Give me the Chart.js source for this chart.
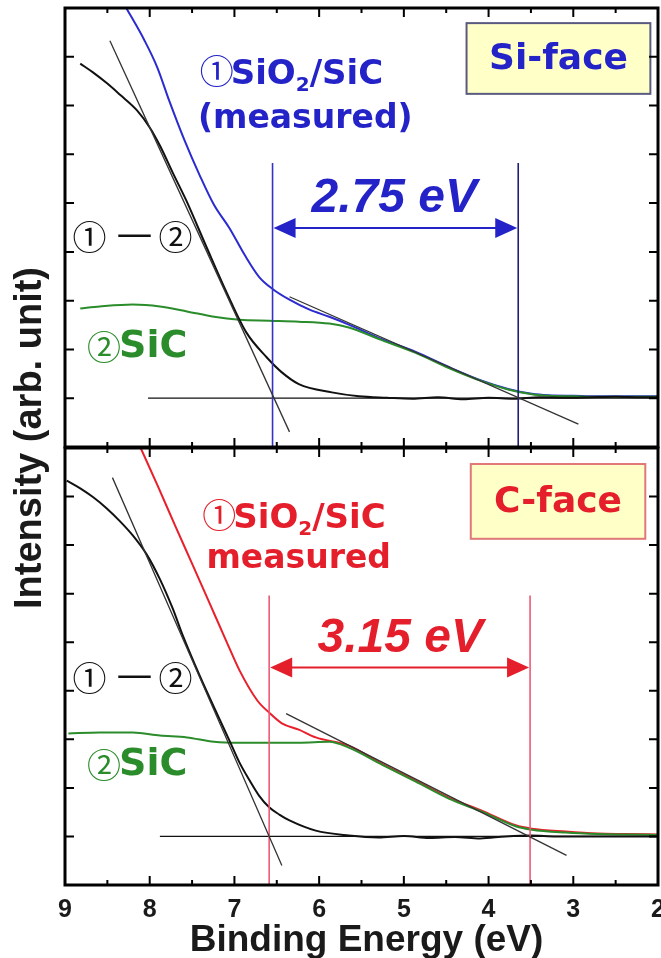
<!DOCTYPE html>
<html lang="en">
<head>
<meta charset="UTF-8">
<title>SiO2/SiC valence band offset</title>
<script src="https://cdn.jsdelivr.net/npm/chart.js"></script>
<style>
  html, body { margin: 0; padding: 0; background: #fff; overflow: hidden; }
  .panel { position: absolute; left: 0; top: 0; width: 661px; height: 958px; }
</style>
</head>
<body>
<div class="panel"><canvas id="siChart"></canvas></div>
<div class="panel"><canvas id="cChart"></canvas></div>
<script>
// axis ranges and ticks (binding energy runs 9 -> 2 eV)
const xMin = 2, xMax = 9, yMin = -1, yMax = 8;
const xMajorTicks = [9, 8, 7, 6, 5, 4, 3, 2];
const xMinorTicks = [8.5, 7.5, 6.5, 5.5, 4.5, 3.5, 2.5];
const yTicks = [0, 1, 2, 3, 4, 5, 6, 7];

// ---- Si-face ----
const siMeasuredE = [8.29, 8.06, 7.91, 7.77, 7.59, 7.41, 7.24, 7.06, 6.88, 6.71, 6.55, 6.35, 6.12, 5.88, 5.65, 5.26, 4.86, 4.47, 4.08, 3.77, 3.49, 3.29, 3.0, 2.71, 2.4, 2.0];
const siMeasuredI = [8.04, 7.33, 6.78, 6.10, 5.29, 4.57, 3.96, 3.49, 2.94, 2.49, 2.24, 2.02, 1.82, 1.67, 1.51, 1.21, 0.95, 0.64, 0.36, 0.19, 0.09, 0.06, 0.05, 0.04, 0.04, 0.04];
const siSubstrateE = [8.82, 8.59, 8.20, 7.88, 7.56, 7.24, 6.94, 6.59, 6.24, 5.88, 5.65, 5.26, 4.86, 4.47, 4.08, 3.77, 3.49, 3.29, 3.0, 2.71, 2.4, 2.0];
const siSubstrateI = [1.84, 1.88, 1.92, 1.88, 1.78, 1.67, 1.61, 1.59, 1.57, 1.53, 1.45, 1.19, 0.93, 0.62, 0.35, 0.18, 0.08, 0.05, 0.04, 0.03, 0.03, 0.03];
const siDiffE = [8.82, 8.67, 8.50, 8.35, 8.15, 8.00, 7.88, 7.73, 7.57, 7.33, 7.09, 6.86, 6.62, 6.44, 6.24, 5.85, 5.53, 5.2, 4.9, 4.6, 4.3, 4.0, 3.7, 3.4, 3.1, 2.8, 2.5, 2.2, 2.0];
const siDiffI = [6.86, 6.68, 6.45, 6.22, 5.90, 5.55, 5.18, 4.63, 4.06, 3.10, 2.16, 1.35, 0.84, 0.53, 0.29, 0.12, 0.04, 0.01, -0.01, 0.02, -0.02, 0.01, -0.01, 0.02, 0.01, 0.02, 0.03, 0.02, 0.02];
const siSteepE = [8.47, 6.35], siSteepI = [7.33, -0.69];
const siSlopeE = [6.35, 2.94], siSlopeI = [2.08, -0.53];
const siBaseE = [8.02, 2.0], siBaseI = [0, 0];
const siGapE = [6.55, 3.65], siGapTop = 4.82;

// ---- C-face ----
const cMeasuredE = [8.12, 7.9, 7.7, 7.5, 7.3, 7.1, 6.94, 6.73, 6.59, 6.44, 6.24, 6.04, 5.65, 5.26, 4.86, 4.47, 4.08, 3.68, 3.49, 3.09, 2.71, 2.4, 2.0];
const cMeasuredI = [8.05, 7.20, 6.40, 5.62, 4.83, 4.04, 3.42, 2.80, 2.55, 2.33, 2.20, 2.04, 1.87, 1.50, 1.15, 0.80, 0.53, 0.23, 0.16, 0.10, 0.06, 0.05, 0.04];
const cSubstrateE = [8.96, 8.59, 8.20, 7.88, 7.56, 7.24, 6.94, 6.59, 6.24, 5.88, 5.65, 5.26, 4.86, 4.47, 4.08, 3.68, 3.49, 3.09, 2.71, 2.4, 2.0];
const cSubstrateI = [2.12, 2.14, 2.14, 2.08, 2.04, 1.95, 1.93, 1.93, 1.93, 1.95, 1.83, 1.48, 1.13, 0.78, 0.51, 0.21, 0.14, 0.08, 0.05, 0.04, 0.03];
const cDiffE = [8.98, 8.82, 8.67, 8.51, 8.35, 8.20, 8.04, 7.88, 7.73, 7.61, 7.41, 7.18, 7.06, 6.94, 6.82, 6.71, 6.59, 6.47, 6.35, 6.04, 5.65, 5.3, 5.0, 4.7, 4.4, 4.1, 3.8, 3.5, 3.2, 2.9, 2.6, 2.3, 2.0];
const cDiffI = [7.33, 7.17, 6.99, 6.76, 6.49, 6.20, 5.82, 5.30, 4.70, 4.14, 3.31, 2.43, 1.98, 1.52, 1.15, 0.84, 0.60, 0.45, 0.33, 0.12, 0.02, -0.02, 0.01, -0.03, -0.01, -0.04, 0.0, 0.02, 0.0, 0.0, 0.0, 0.0, 0.0];
const cSteepE = [8.44, 6.44], cSteepI = [7.39, -0.60];
const cSlopeE = [6.39, 3.08], cSlopeI = [2.53, -0.39];
const cBaseE = [7.88, 2.0], cBaseI = [0, 0];
const cGapE = [6.59, 3.51], cGapTop = 4.96;

const ARIAL = '"Liberation Sans", Arial, sans-serif';
const WIDE = '"DejaVu Sans", "Noto Sans CJK JP", sans-serif';
const CIRC = '34px "Noto Sans CJK JP", "DejaVu Sans", sans-serif';

function pts(E, I) { return E.map((e, i) => ({ x: e, y: I[i] })); }

function curve(data, color, width) {
    return { data, borderColor: color, borderWidth: width, pointRadius: 0,
             showLine: true, fill: false, cubicInterpolationMode: 'monotone' };
}

// draws a row of text pieces one after another
function drawParts(ctx, parts, x, y) {
    parts.forEach(p => {
        ctx.font = p.font;
        ctx.fillText(p.t, x, y + (p.dy || 0));
        x += ctx.measureText(p.t).width + (p.gap || 0);
    });
}

function arrowHead(ctx, tipX, y, dir) {
    ctx.beginPath();
    ctx.moveTo(tipX, y);
    ctx.lineTo(tipX + dir * 22, y - 10);
    ctx.lineTo(tipX + dir * 22, y + 10);
    ctx.closePath();
    ctx.fill();
}

function makePanel(id, p) {
    const decor = {
        id: 'decor',
        afterDatasetsDraw(chart) {
            const { ctx, chartArea: a, scales: { x, y } } = chart;
            const X = v => x.getPixelForValue(v), Y = v => y.getPixelForValue(v);
            ctx.save();

            // gap arrow and value
            const ay = Y(p.arrowI), xl = X(p.gapE[0]), xr = X(p.gapE[1]);
            ctx.strokeStyle = p.accent; ctx.fillStyle = p.accent; ctx.lineWidth = 2;
            ctx.beginPath(); ctx.moveTo(xl + 10, ay); ctx.lineTo(xr - 10, ay); ctx.stroke();
            arrowHead(ctx, xl + 1, ay, 1);
            arrowHead(ctx, xr - 1, ay, -1);
            ctx.textAlign = 'left'; ctx.textBaseline = 'alphabetic';
            ctx.font = 'italic bold 48px ' + ARIAL;
            ctx.fillText(p.gapLabel, X(p.gapLabelAt[0]), Y(p.gapLabelAt[1]));

            // sample labels
            const big = 'bold 34px ' + WIDE;
            drawParts(ctx, [
                { t: '①', font: CIRC, gap: -3 },
                { t: 'SiO', font: big },
                { t: '2', font: 'bold 20px ' + WIDE, dy: 7 },
                { t: '/SiC', font: big }
            ], X(p.sampleAt[0]), Y(p.sampleAt[1]));
            ctx.font = 'bold 33px ' + WIDE;
            ctx.fillText(p.measuredText, X(p.measuredAt[0]), Y(p.measuredAt[1]));

            ctx.fillStyle = '#111';
            ctx.textBaseline = 'middle';
            drawParts(ctx, [
                { t: '①', font: CIRC, gap: 10 },
                { t: '—', font: '36px ' + WIDE, gap: 6 },
                { t: '②', font: CIRC }
            ], X(p.diffAt[0]), Y(p.diffAt[1]));

            ctx.fillStyle = '#2a8c2a';
            drawParts(ctx, [
                { t: '②', font: CIRC, gap: -2 },
                { t: 'SiC', font: 'bold 38px ' + WIDE }
            ], X(p.subAt[0]), Y(p.subAt[1]));

            // face box
            const bx = X(p.box[0]), by = Y(p.box[1]), bw = X(p.box[2]) - bx, bh = Y(p.box[3]) - by;
            ctx.fillStyle = '#ffffc8';
            ctx.fillRect(bx, by, bw, bh);
            ctx.strokeStyle = p.boxBorder; ctx.lineWidth = 2;
            ctx.strokeRect(bx, by, bw, bh);
            ctx.fillStyle = p.accent;
            ctx.textAlign = 'center';
            ctx.font = 'bold 36px ' + WIDE;
            ctx.fillText(p.face, bx + bw / 2, by + bh / 2 + 1);

            // frame with inward ticks on all sides
            ctx.strokeStyle = '#000'; ctx.lineWidth = 3;
            ctx.strokeRect(a.left, a.top, a.right - a.left, a.bottom - a.top);
            ctx.lineWidth = 2;
            ctx.beginPath();
            xMajorTicks.concat(xMinorTicks).forEach(v => {
                const len = xMajorTicks.includes(v) ? 9 : 5, px = X(v);
                ctx.moveTo(px, a.bottom); ctx.lineTo(px, a.bottom - len);
                ctx.moveTo(px, a.top); ctx.lineTo(px, a.top + len);
            });
            yTicks.forEach(v => {
                const py = Y(v);
                ctx.moveTo(a.left, py); ctx.lineTo(a.left + 9, py);
                ctx.moveTo(a.right, py); ctx.lineTo(a.right - 9, py);
            });
            ctx.stroke();

            if (p.bottom) {
                ctx.fillStyle = '#1a1a1a';
                ctx.textAlign = 'center'; ctx.textBaseline = 'alphabetic';
                ctx.font = 'bold 25px ' + ARIAL;
                xMajorTicks.forEach(v => ctx.fillText(String(v), X(v), a.bottom + 32));
                ctx.font = 'bold 37px ' + ARIAL;
                ctx.fillText('Binding Energy (eV)', (a.left + a.right) / 2 + 5, a.bottom + 66);
                ctx.save();
                ctx.translate(31, 438);
                ctx.rotate(-Math.PI / 2);
                ctx.font = 'bold 38px ' + ARIAL;
                ctx.textBaseline = 'middle';
                ctx.fillText('Intensity (arb. unit)', 0, 0);
                ctx.restore();
            }
            ctx.restore();
        }
    };

    return new Chart(document.getElementById(id), {
        type: 'scatter',
        data: {
            datasets: [
                curve(pts(p.steepE, p.steepI), '#333', 1.3),
                curve(pts(p.slopeE, p.slopeI), '#333', 1.3),
                curve(pts([p.gapE[0], p.gapE[0]], [p.gapTop, yMin]), p.vline[0], 1.6),
                curve(pts([p.gapE[1], p.gapE[1]], [p.gapTop, yMin]), p.vline[1], 1.6),
                curve(pts(p.diffE, p.diffI), '#111', 2),
                curve(pts(p.subE, p.subI), '#2a8c2a', 2),
                curve(pts(p.measE, p.measI), p.curveColor, 2),
                curve(pts(p.baseE, p.baseI), '#111', 1.3)
            ]
        },
        options: {
            responsive: true,
            maintainAspectRatio: false,
            animation: false,
            devicePixelRatio: 1,
            layout: { padding: p.padding },
            plugins: { legend: { display: false }, tooltip: { enabled: false } },
            scales: {
                x: { type: 'linear', reverse: true, min: xMin, max: xMax, display: false },
                y: { type: 'linear', min: yMin, max: yMax, display: false }
            }
        },
        plugins: [decor]
    });
}

makePanel('siChart', {
    padding: { left: 65, right: 3, top: 8, bottom: 511 },
    accent: '#2323c8', curveColor: '#2b2bd0', boxBorder: '#5a5a80',
    vline: ['#3434c4', '#1e1e78'],
    measE: siMeasuredE, measI: siMeasuredI,
    subE: siSubstrateE, subI: siSubstrateI,
    diffE: siDiffE, diffI: siDiffI,
    steepE: siSteepE, steepI: siSteepI,
    slopeE: siSlopeE, slopeI: siSlopeI,
    baseE: siBaseE, baseI: siBaseI,
    gapE: siGapE, gapTop: siGapTop, arrowI: 3.49,
    gapLabel: '2.75 eV', gapLabelAt: [6.09, 3.82],
    sampleAt: [7.41, 6.45], measuredText: '(measured)', measuredAt: [7.43, 5.55],
    diffAt: [8.91, 3.31], subAt: [8.74, 1.04],
    face: 'Si-face', box: [4.26, 7.69, 2.09, 6.24],
    bottom: false
});

makePanel('cChart', {
    padding: { left: 65, right: 3, top: 448, bottom: 73 },
    accent: '#e41e2a', curveColor: '#e8202c', boxBorder: '#e07878',
    vline: ['#ec5a74', '#ec5a74'],
    measE: cMeasuredE, measI: cMeasuredI,
    subE: cSubstrateE, subI: cSubstrateI,
    diffE: cDiffE, diffI: cDiffI,
    steepE: cSteepE, steepI: cSteepI,
    slopeE: cSlopeE, slopeI: cSlopeI,
    baseE: cBaseE, baseI: cBaseI,
    gapE: cGapE, gapTop: cGapTop, arrowI: 3.48,
    gapLabel: '3.15 eV', gapLabelAt: [6.02, 3.79],
    sampleAt: [7.38, 6.36], measuredText: 'measured', measuredAt: [7.33, 5.53],
    diffAt: [8.91, 3.27], subAt: [8.74, 1.46],
    face: 'C-face', box: [4.21, 7.67, 2.15, 6.13],
    bottom: true
});
</script>
</body>
</html>
